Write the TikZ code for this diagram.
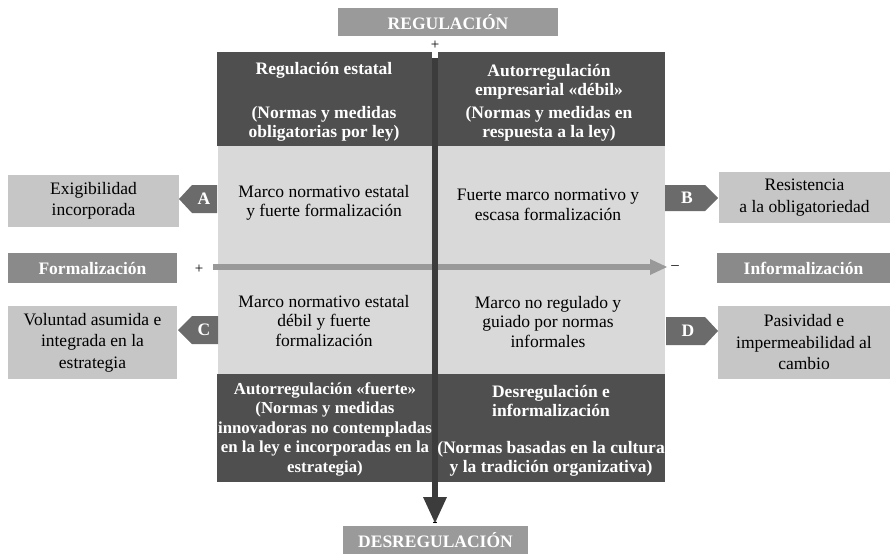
\documentclass[tikz,border=0pt]{standalone}
\usepackage{fontspec}
\setmainfont{Liberation Serif}
\definecolor{cDark}{HTML}{4F4F4F}
\definecolor{cAxis}{HTML}{3C3C3C}
\definecolor{cLight}{HTML}{D9D9D9}
\definecolor{cSide}{HTML}{C6C6C6}
\definecolor{cTag}{HTML}{6B6B6B}
\definecolor{cAxisBox}{HTML}{8A8A8A}
\definecolor{cTitle}{HTML}{9A9A9A}
\definecolor{cHArrow}{HTML}{999999}
\begin{document}
\begin{tikzpicture}[x=1pt,y=-1pt,
  txt/.style={font=\fontsize{17.5}{19.5}\selectfont, align=center, inner sep=0pt, outer sep=0pt},
  btxt/.style={font=\fontsize{17.5}{19.5}\selectfont\bfseries, align=center, inner sep=0pt, outer sep=0pt, text=white},
  sidebox/.style={txt, rectangle, fill=cSide, font=\fontsize{17.5}{21.5}\selectfont},
  axisbox/.style={btxt, rectangle, fill=cAxisBox},
  titlebox/.style={btxt, rectangle, fill=cTitle, text=white},
  tagshape/.style={fill=cTag},
  tagtxt/.style={btxt},
  sign/.style={font=\fontsize{15}{15}\selectfont, inner sep=0pt}
]
\useasboundingbox (0,0) rectangle (894,555);

% quadrant backgrounds
\fill[cLight] (218,146) rectangle (665,374);
\fill[cDark] (217,52) rectangle (432,146);
\fill[cDark] (438,52) rectangle (665,146);
\fill[cDark] (217,374) rectangle (432,482);
\fill[cDark] (438,374) rectangle (665,482);

% axes
\coordinate (hstart) at (213,267);
\coordinate (hend) at (650,267);
\coordinate (vstart) at (435,58);
\coordinate (vend) at (435,497);
\draw[cHArrow, line width=6pt] (hstart) -- (hend);
\fill[cHArrow] (650,259) -- (667,267) -- (650,275) -- cycle;
\draw[cAxis, line width=6pt] (vstart) -- (vend);
\fill[cAxis] (423,497) -- (447,497) -- (435,523) -- cycle;

% titles on axes
\node[titlebox, minimum width=220pt, minimum height=28pt] (reg) at (448,22) {REGULACIÓN};
\node[titlebox, minimum width=185pt, minimum height=28pt] (desreg) at (435.5,540) {DESREGULACIÓN};
\node[axisbox, minimum width=169pt, minimum height=30pt] (formal) at (92.5,268) {Formalización};
\node[axisbox, minimum width=173pt, minimum height=30pt] (informal) at (803.5,268) {Informalización};
\node[sign] (plustop) at (435,45) {+};
\node[sign] (minusbot) at (435,524) {-};
\node[sign] (plusleft) at (199,269) {+};
\node[sign] (minusright) at (675,268) {--};

% dark box texts
\node[btxt] (tltitle) at (324,70) {Regulación estatal};
\node[btxt] (tlsub) at (324,124) {(Normas y medidas\\obligatorias por ley)};
\node[btxt] (trtitle) at (549,82) {Autorregulación\\empresarial «débil»};
\node[btxt] (trsub) at (549,124) {(Normas y medidas en\\respuesta a la ley)};
\node[btxt, font=\fontsize{16.8}{19.5}\selectfont\bfseries] (bl) at (325,429) {Autorregulación «fuerte»\\(Normas y medidas\\innovadoras no contempladas\\en la ley e incorporadas en la\\estrategia)};
\node[btxt] (brtitle) at (551,401) {Desregulación e\\informalización};
\node[btxt] (brsub) at (551,459) {(Normas basadas en la cultura\\y la tradición organizativa)};

% light region texts
\node[txt] (qa) at (324,203) {Marco normativo estatal\\y fuerte formalización};
\node[txt] (qb) at (548,205) {Fuerte marco normativo y\\escasa formalización};
\node[txt] (qc) at (324,321) {Marco normativo estatal\\débil y fuerte\\formalización};
\node[txt] (qd) at (548,322) {Marco no regulado y\\guiado por normas\\informales};

% side boxes
\node[sidebox, minimum width=171pt, minimum height=52pt] (sa) at (93.5,201) {Exigibilidad\\incorporada};
\node[sidebox, minimum width=171pt, minimum height=51pt] (sb) at (804.5,197.5) {Resistencia\\a la obligatoriedad};
\node[sidebox, minimum width=169pt, minimum height=73pt] (sc) at (92.5,342.5) {Voluntad asumida e\\integrada en la\\estrategia};
\node[sidebox, minimum width=172pt, minimum height=73pt] (sd) at (804,342.5) {Pasividad e\\impermeabilidad al\\cambio};

% tags
\fill[tagshape] (217,185) -- (192,185) -- (179,199) -- (192,213) -- (217,213) -- cycle;
\node[tagtxt] (ta) at (204,199) {A};
\fill[tagshape] (665,185) -- (705,185) -- (718,198) -- (705,211) -- (665,211) -- cycle;
\node[tagtxt] (tb) at (687,198) {B};
\fill[tagshape] (218,316) -- (192,316) -- (178,330) -- (192,344) -- (218,344) -- cycle;
\node[tagtxt] (tc) at (204,330) {C};
\fill[tagshape] (666,317) -- (705,317) -- (718,331) -- (705,345) -- (666,345) -- cycle;
\node[tagtxt] (td) at (688,331) {D};
\end{tikzpicture}
\end{document}
